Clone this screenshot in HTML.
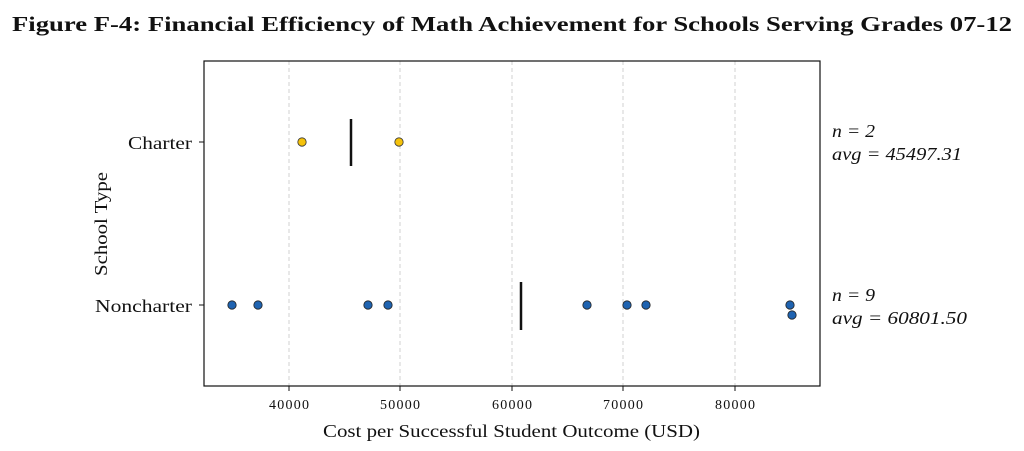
<!DOCTYPE html>
<html><head><meta charset="utf-8"><style>
body{margin:0;background:#fff;}
svg{display:block;font-family:"Liberation Serif",serif;}
</style></head><body>
<svg width="1024" height="451" viewBox="0 0 1024 451" xmlns="http://www.w3.org/2000/svg">
<rect width="1024" height="451" fill="#fff"/>
<text x="12" y="31" font-size="21" font-weight="bold" fill="#111" textLength="1000" lengthAdjust="spacingAndGlyphs">Figure F-4: Financial Efficiency of Math Achievement for Schools Serving Grades 07-12</text>
<g stroke="#d0d0d0" stroke-dasharray="4,3" stroke-width="1">
<line x1="289" y1="61" x2="289" y2="386"/>
<line x1="400" y1="61" x2="400" y2="386"/>
<line x1="512" y1="61" x2="512" y2="386"/>
<line x1="623" y1="61" x2="623" y2="386"/>
<line x1="735" y1="61" x2="735" y2="386"/>
</g>
<rect x="204" y="61" width="616" height="325" fill="none" stroke="#111" stroke-width="1.2"/>
<g stroke="#111" stroke-width="1">
<line x1="289" y1="386" x2="289" y2="391"/><line x1="400" y1="386" x2="400" y2="391"/>
<line x1="512" y1="386" x2="512" y2="391"/><line x1="623" y1="386" x2="623" y2="391"/>
<line x1="735" y1="386" x2="735" y2="391"/>
<line x1="199" y1="142" x2="204" y2="142"/><line x1="199" y1="305" x2="204" y2="305"/>
</g>
<g font-size="14" fill="#111" lengthAdjust="spacingAndGlyphs">
<text x="269" y="409" textLength="40">40000</text><text x="380" y="409" textLength="40">50000</text><text x="492" y="409" textLength="40">60000</text><text x="603" y="409" textLength="40">70000</text><text x="715" y="409" textLength="40">80000</text>
</g>
<text x="323" y="437" font-size="18" fill="#111" textLength="377" lengthAdjust="spacingAndGlyphs">Cost per Successful Student Outcome (USD)</text>
<text x="128" y="149" font-size="18" fill="#111" textLength="64" lengthAdjust="spacingAndGlyphs">Charter</text>
<text x="95" y="312" font-size="18" fill="#111" textLength="97" lengthAdjust="spacingAndGlyphs">Noncharter</text>
<text transform="translate(107,224) rotate(-90)" x="-52" y="0" font-size="18" fill="#111" textLength="104" lengthAdjust="spacingAndGlyphs">School Type</text>
<line x1="351" y1="119" x2="351" y2="166" stroke="#111" stroke-width="2.5"/>
<line x1="521" y1="282" x2="521" y2="330" stroke="#111" stroke-width="2.5"/>
<g fill="#f5c20b" stroke="#333" stroke-width="0.8">
<circle cx="302" cy="142" r="4.2"/><circle cx="399" cy="142" r="4.2"/>
</g>
<g fill="#1f63b0" stroke="#222" stroke-width="0.8">
<circle cx="232" cy="305" r="4.2"/><circle cx="258" cy="305" r="4.2"/>
<circle cx="368" cy="305" r="4.2"/><circle cx="388" cy="305" r="4.2"/>
<circle cx="587" cy="305" r="4.2"/><circle cx="627" cy="305" r="4.2"/>
<circle cx="646" cy="305" r="4.2"/><circle cx="790" cy="305" r="4.2"/>
<circle cx="792" cy="315" r="4.2"/>
</g>
<g font-size="18" font-style="italic" fill="#111">
<text x="832" y="137" textLength="43" lengthAdjust="spacingAndGlyphs">n = 2</text><text x="832" y="160" textLength="130" lengthAdjust="spacingAndGlyphs">avg = 45497.31</text>
<text x="832" y="301" textLength="43" lengthAdjust="spacingAndGlyphs">n = 9</text><text x="832" y="324" textLength="135" lengthAdjust="spacingAndGlyphs">avg = 60801.50</text>
</g>
</svg>
</body></html>
